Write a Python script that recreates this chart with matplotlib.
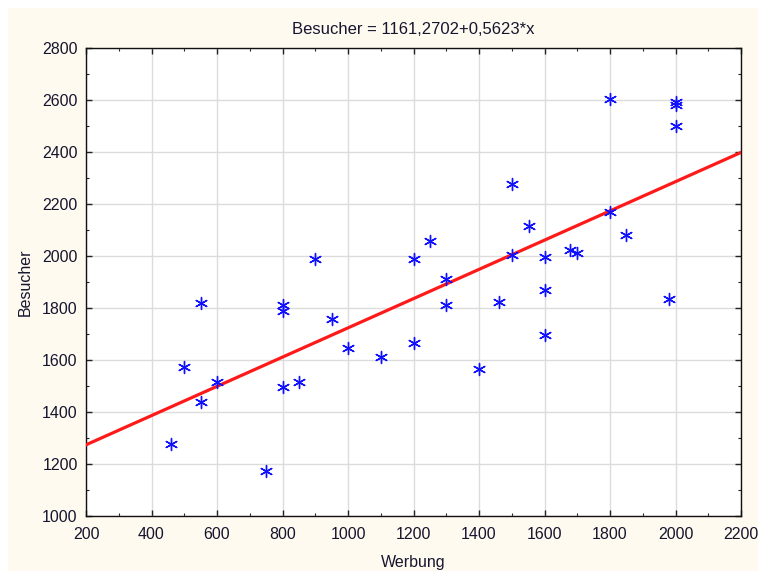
import matplotlib
matplotlib.use("Agg")
import matplotlib.pyplot as plt
from matplotlib.patches import Rectangle
from matplotlib.ticker import MultipleLocator
import numpy as np

werbung = [460, 500, 550, 550, 600, 750, 800, 800, 800, 850, 900, 950, 1000, 1100,
           1200, 1200, 1250, 1300, 1300, 1400, 1462, 1500, 1500, 1552, 1600, 1600,
           1600, 1678, 1700, 1800, 1800, 1850, 1980, 2000, 2000, 2000]
besucher = [1277, 1574, 1820, 1440, 1516, 1174, 1810, 1790, 1495, 1514, 1987, 1757,
            1645, 1612, 1987, 1664, 2057, 1911, 1813, 1564, 1822, 2277, 2003, 2117,
            1995, 1869, 1698, 2022, 2013, 2602, 2168, 2080, 1833, 2594, 2581, 2500]
intercept = 1161.2702
slope = 0.5623
title = "Besucher = 1161,2702+0,5623*x"
xlabel = "Werbung"
ylabel = "Besucher"

plt.rcParams['font.family'] = ['Liberation Sans', 'DejaVu Sans']
txt = '#15152e'

fig = plt.figure(figsize=(7.58, 5.71), dpi=100, facecolor='white')
fig.patches.append(Rectangle((8/758, 0), 1, 1 - 8/571, transform=fig.transFigure,
                             facecolor='#fffaf0', edgecolor='none', zorder=-10))

ax = fig.add_axes([86/758, 1 - 516/571, (741-86)/758, (516-48)/571])
ax.set_facecolor('white')
ax.set_xlim(200, 2200)
ax.set_ylim(1000, 2800)
ax.xaxis.set_major_locator(MultipleLocator(200))
ax.yaxis.set_major_locator(MultipleLocator(200))
ax.xaxis.set_minor_locator(MultipleLocator(100))
ax.yaxis.set_minor_locator(MultipleLocator(100))
ax.grid(True, which='major', color='#dcdcdc', linewidth=1.0)
ax.set_axisbelow(True)
ax.tick_params(which='both', direction='in', top=True, right=True, colors='#222222',
               labelcolor=txt, labelsize=11.5)
ax.tick_params(which='major', length=4, width=1)
ax.tick_params(which='minor', length=2, width=0.8)
ax.tick_params(axis='x', pad=8)
ax.tick_params(axis='y', pad=6)
for s in ax.spines.values():
    s.set_color('#111111')
    s.set_linewidth(1.0)

xs = np.array([200, 2200])
ax.plot(xs, intercept + slope * xs, color='#ff1a1a', linewidth=2.3, zorder=3)
ax.scatter(werbung, besucher, marker=(6, 2, 0), s=75, color='#1010ff',
           linewidths=1.0, zorder=4)

ax.set_title(title, fontsize=12, color=txt, pad=10)
ax.set_xlabel(xlabel, fontsize=11.5, color=txt, labelpad=9)
ax.set_ylabel(ylabel, fontsize=11.5, color=txt, labelpad=7)

fig.savefig("out.png", dpi=100, facecolor=fig.get_facecolor())
